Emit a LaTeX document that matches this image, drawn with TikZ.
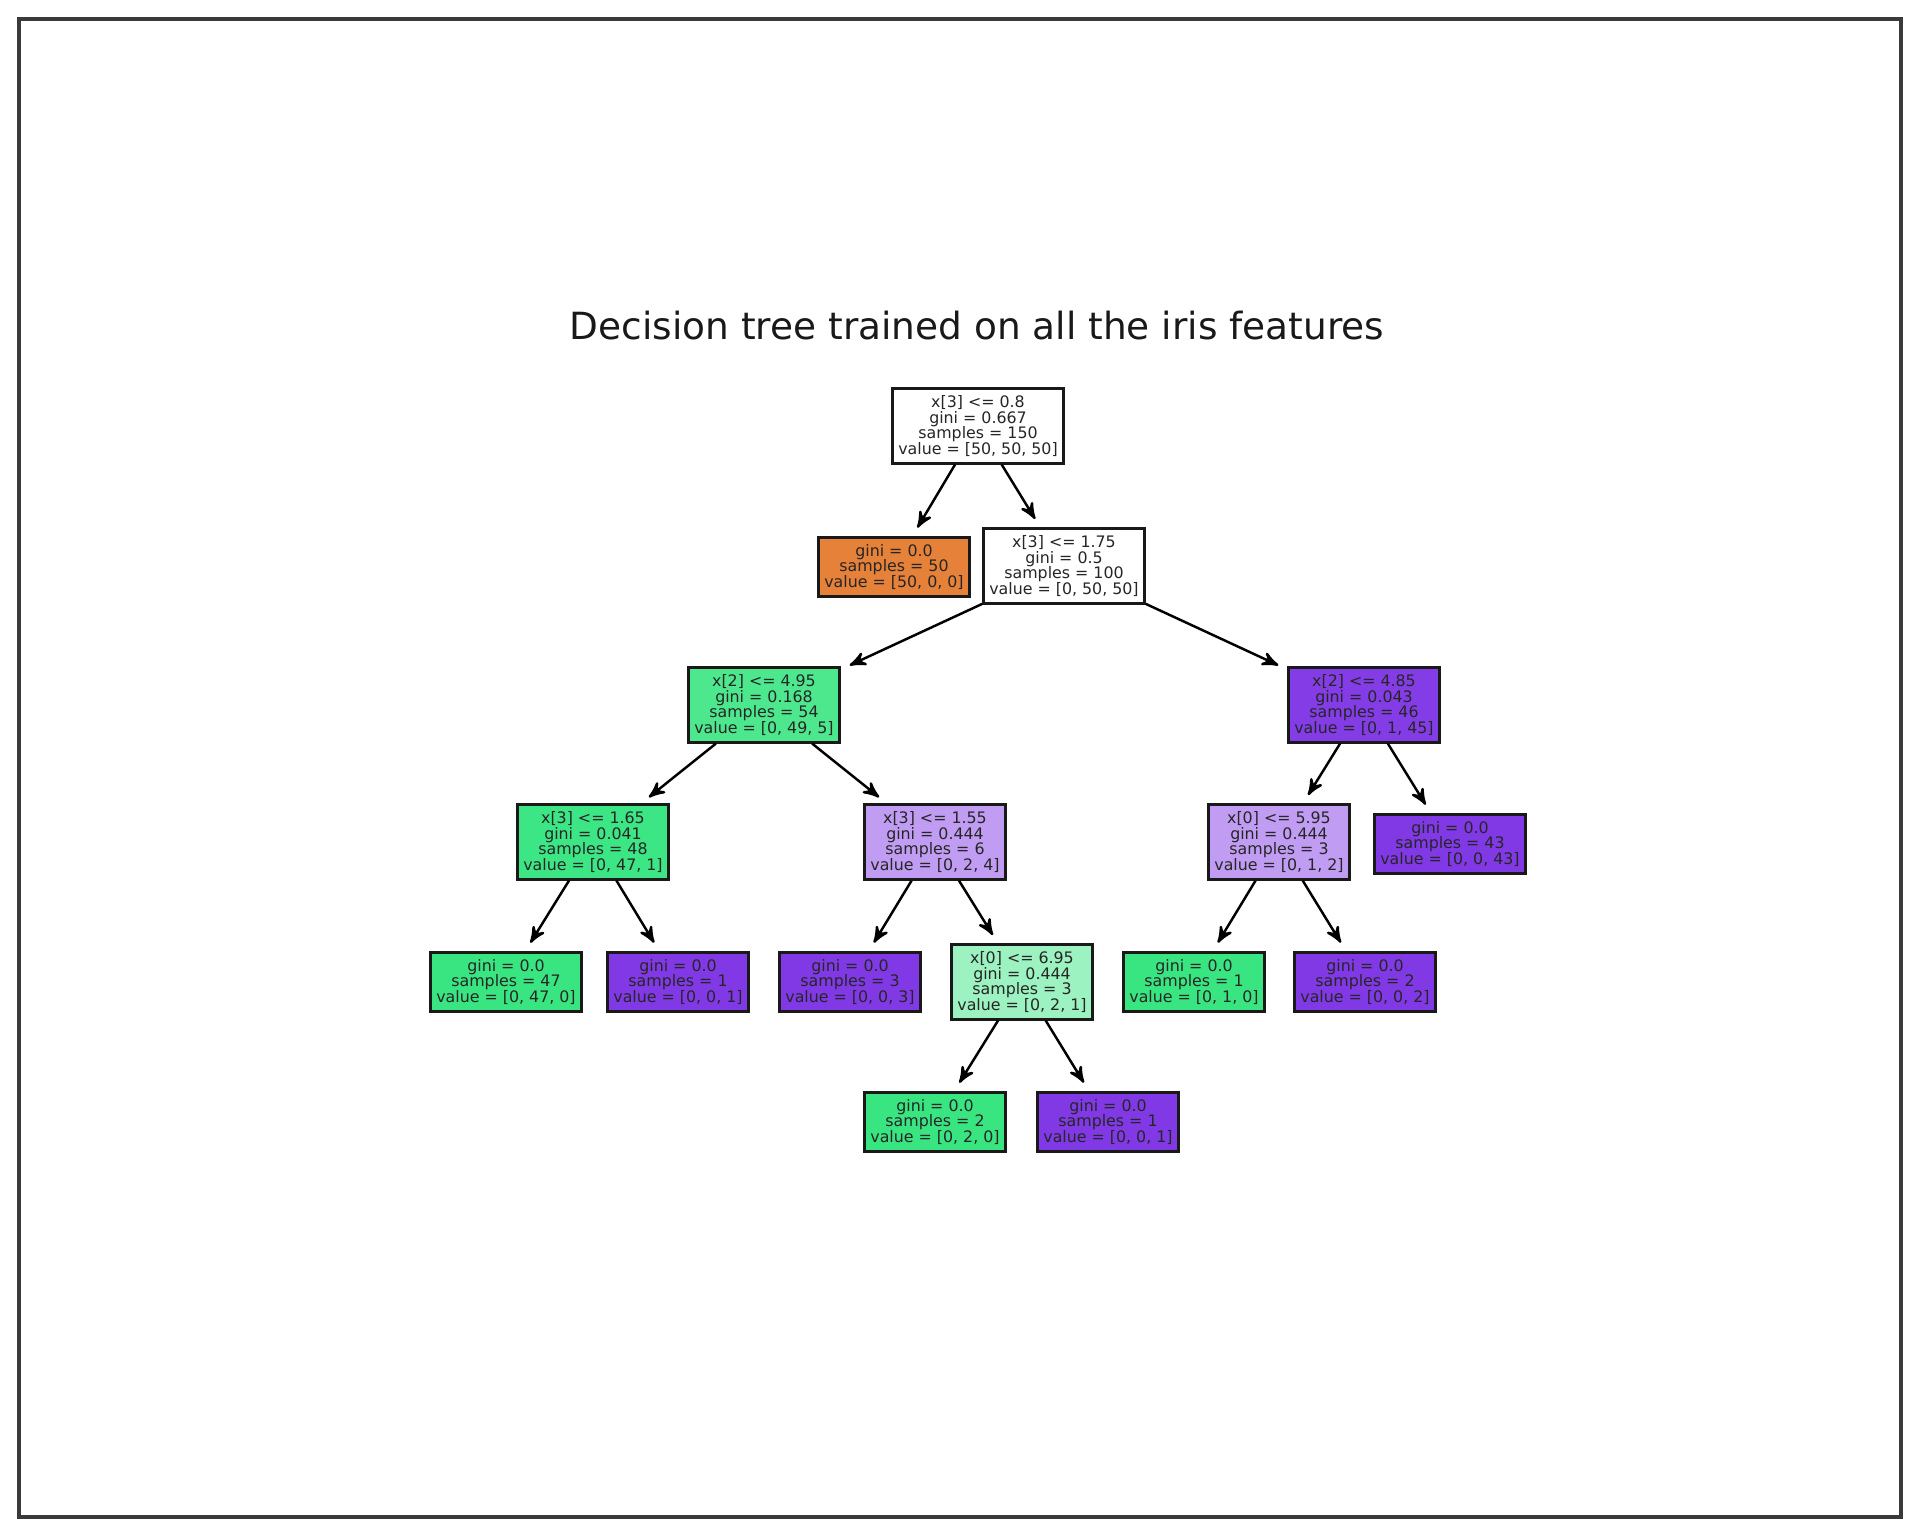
\documentclass[tikz,border=0pt]{standalone}
\usepackage{fontspec}
\setmainfont{DejaVu Sans}
\usetikzlibrary{arrows}
\definecolor{clsorange}{HTML}{E58139}
\definecolor{clsgreen}{HTML}{39E581}
\definecolor{clspurple}{HTML}{8139E5}
\definecolor{framegray}{HTML}{3A3A3A}

\begin{document}
\begin{tikzpicture}[x=0.01cm, y=-0.01cm, >=stealth', shorten >=2.8pt,
    split/.style={draw=black!90, line width=0.85pt, align=center, inner xsep=1.6pt, inner ysep=1.95pt,
      font=\fontsize{4.5}{4.4}\selectfont, text=black!85},
    leaf/.style={split}]
  \useasboundingbox (0,0) rectangle (1920,1536);
  \draw[framegray, line width=1.15pt] (19,19) rectangle (1901,1517);

  \node[font=\fontsize{10.65}{12}\selectfont, text=black!90, anchor=base] (title) at (977,339)
    {Decision tree trained on all the iris features};

  \node[split, fill=white]           (n0)  at (978,426)  {x[3] <= 0.8\\gini = 0.667\\samples = 150\\value = [50, 50, 50]};
  \node[leaf, fill=clsorange]        (n1)  at (894,567)  {gini = 0.0\\samples = 50\\value = [50, 0, 0]};
  \node[split, fill=white]           (n2)  at (1064,566) {x[3] <= 1.75\\gini = 0.5\\samples = 100\\value = [0, 50, 50]};
  \node[split, fill=clsgreen!90!white]  (n3)  at (764,705)  {x[2] <= 4.95\\gini = 0.168\\samples = 54\\value = [0, 49, 5]};
  \node[split, fill=clspurple!98!white] (n12) at (1364,705) {x[2] <= 4.85\\gini = 0.043\\samples = 46\\value = [0, 1, 45]};
  \node[split, fill=clsgreen!98!white]  (n4)  at (593,842)  {x[3] <= 1.65\\gini = 0.041\\samples = 48\\value = [0, 47, 1]};
  \node[split, fill=clspurple!50!white] (n7)  at (935,842)  {x[3] <= 1.55\\gini = 0.444\\samples = 6\\value = [0, 2, 4]};
  \node[split, fill=clspurple!50!white] (n13) at (1279,842) {x[0] <= 5.95\\gini = 0.444\\samples = 3\\value = [0, 1, 2]};
  \node[leaf, fill=clspurple]        (n16) at (1450,844) {gini = 0.0\\samples = 43\\value = [0, 0, 43]};
  \node[leaf, fill=clsgreen]         (n5)  at (506,982)  {gini = 0.0\\samples = 47\\value = [0, 47, 0]};
  \node[leaf, fill=clspurple]        (n6)  at (678,982)  {gini = 0.0\\samples = 1\\value = [0, 0, 1]};
  \node[leaf, fill=clspurple]        (n8)  at (850,982)  {gini = 0.0\\samples = 3\\value = [0, 0, 3]};
  \node[split, fill=clsgreen!50!white]  (n9)  at (1022,982) {x[0] <= 6.95\\gini = 0.444\\samples = 3\\value = [0, 2, 1]};
  \node[leaf, fill=clsgreen]         (n14) at (1194,982) {gini = 0.0\\samples = 1\\value = [0, 1, 0]};
  \node[leaf, fill=clspurple]        (n15) at (1365,982) {gini = 0.0\\samples = 2\\value = [0, 0, 2]};
  \node[leaf, fill=clsgreen]         (n10) at (935,1122) {gini = 0.0\\samples = 2\\value = [0, 2, 0]};
  \node[leaf, fill=clspurple]        (n11) at (1108,1122) {gini = 0.0\\samples = 1\\value = [0, 0, 1]};

  \path[->, line width=0.7pt]
          (n0)  edge (n1)
                edge (n2)
          (n2)  edge (n3)
                edge (n12)
          (n3)  edge (n4)
                edge (n7)
          (n4)  edge (n5)
                edge (n6)
          (n7)  edge (n8)
                edge (n9)
          (n9)  edge (n10)
                edge (n11)
          (n12) edge (n13)
                edge (n16)
          (n13) edge (n14)
                edge (n15);
\end{tikzpicture}
\end{document}
